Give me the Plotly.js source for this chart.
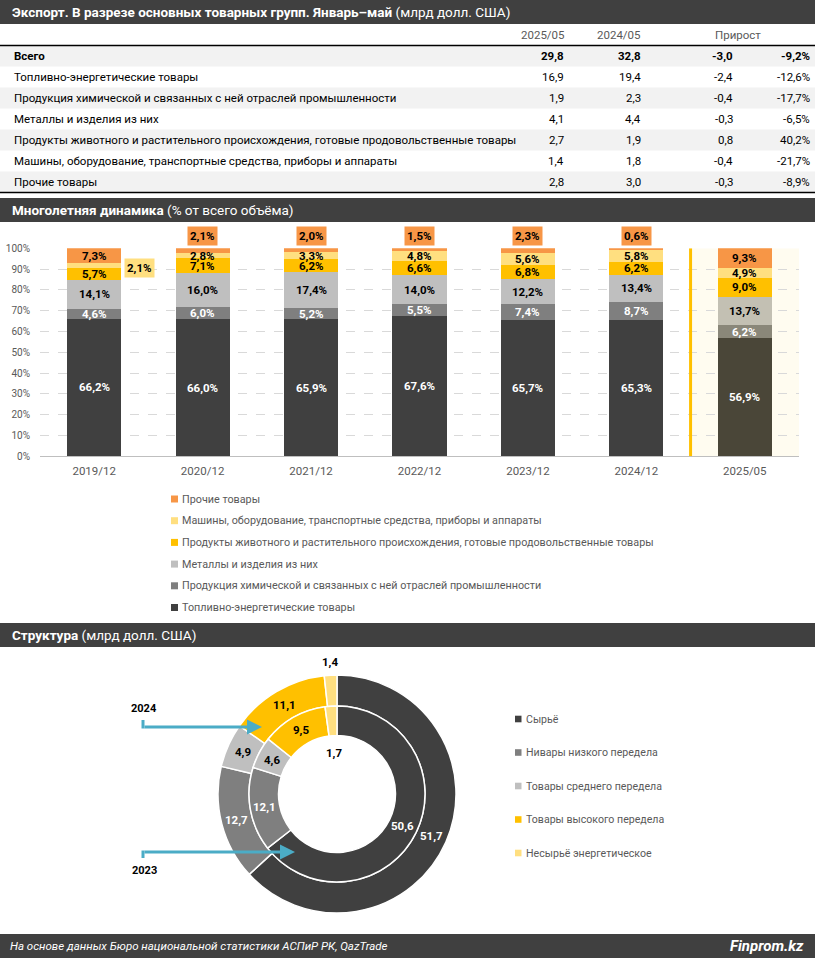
<!DOCTYPE html>
<html><head><meta charset="utf-8">
<script src="https://cdn.plot.ly/plotly-3.0.1.min.js"></script>
<style>body{margin:0;background:#fff}#chart{width:815px;height:958px}</style>
</head><body><div id="chart"></div>
<script>
// ---------- DATA ----------
const years = ['2019/12','2020/12','2021/12','2022/12','2023/12','2024/12','2025/05'];
const seriesNames = [
  'Топливно-энергетические товары',
  'Продукция химической и связанных с ней отраслей промышленности',
  'Металлы и изделия из них',
  'Продукты животного и растительного происхождения, готовые продовольственные товары',
  'Машины, оборудование, транспортные средства, приборы и аппараты',
  'Прочие товары'
];
const fuelShare  = [66.2, 66.0, 65.9, 67.6, 65.7, 65.3, 56.9];
const chemShare  = [4.6, 6.0, 5.2, 5.5, 7.4, 8.7, 6.2];
const metalShare = [14.1, 16.0, 17.4, 14.0, 12.2, 13.4, 13.7];
const foodShare  = [5.7, 7.1, 6.2, 6.6, 6.8, 6.2, 9.0];
const machShare  = [2.1, 2.8, 3.3, 4.8, 5.6, 5.8, 4.9];
const otherShare = [7.3, 2.1, 2.0, 1.5, 2.3, 0.6, 9.3];
const yTickVals  = [0, 10, 20, 30, 40, 50, 60, 70, 80, 90, 100];
const yTickText  = ['0%','10%','20%','30%','40%','50%','60%','70%','80%','90%','100%'];

const tableHeaders = ['2025/05', '2024/05', 'Прирост'];
const tableRows = ['Всего'].concat(seriesNames);
const val2025 = [29.8, 16.9, 1.9, 4.1, 2.7, 1.4, 2.8];
const val2024 = [32.8, 19.4, 2.3, 4.4, 1.9, 1.8, 3.0];
const growthAbs = [-3.0, -2.4, -0.4, -0.3, 0.8, -0.4, -0.3];
const growthPct = [-9.2, -12.6, -17.7, -6.5, 40.2, -21.7, -8.9];

const donutLabels = ['Сырьё','Нивары низкого передела','Товары среднего передела','Товары высокого передела','Несырьё энергетическое'];
const donut2024 = [51.7, 12.7, 4.9, 11.1, 1.4];
const donut2023 = [50.6, 12.1, 4.6, 9.5, 1.7];
const donutYears = ['2024', '2023'];

const titles = {
  t1b: 'Экспорт. В разрезе основных товарных групп. Январь–май', t1: ' (млрд долл. США)',
  t2b: 'Многолетняя динамика', t2: ' (% от всего объёма)',
  t3b: 'Структура', t3: ' (млрд долл. США)',
  src: 'На основе данных Бюро национальной статистики АСПиР РК, QazTrade', brand: 'Finprom.kz'
};

// ---------- STYLE ----------
const W = 815, H = 958;
const FONT = 'Roboto, "Noto Sans", sans-serif';
const DARK = '#404040';
const X = p => p / W, Y = p => 1 - p / H;
const fmt = v => v.toFixed(1).replace('.', ',');
const shares = [fuelShare, chemShare, metalShare, foodShare, machShare, otherShare];
const colors = ['#404040', '#7f7f7f', '#bfbfbf', '#ffc000', '#ffdf80', '#f79646'];
const colorsLast = ['#4a4638', '#8a8779', '#c3c0b3', '#ffc000', '#ffdf80', '#f79646'];
const txtColors = ['#ffffff', '#ffffff', '#000000', '#000000', '#000000', '#000000'];
const donutColors = ['#404040', '#7f7f7f', '#bfbfbf', '#ffc000', '#ffdf80'];

const shapes = [], ann = [], traces = [];

function header(y0, y1, b, n) {
  shapes.push({type:'rect', xref:'paper', yref:'paper', x0:0, x1:1, y0:Y(y1), y1:Y(y0), fillcolor:DARK, line:{width:0}, layer:'below'});
  ann.push({xref:'paper', yref:'paper', x:X(10), y:Y((y0+y1)/2), xanchor:'left', yanchor:'middle', showarrow:false,
    text:'<b>'+b+'</b>'+n, font:{family:FONT, size:13.5, color:'#ffffff'}});
}
header(0, 24, titles.t1b, titles.t1);
header(198, 222, titles.t2b, titles.t2);
header(623, 647, titles.t3b, titles.t3);

// footer
shapes.push({type:'rect', xref:'paper', yref:'paper', x0:0, x1:1, y0:0, y1:Y(934), fillcolor:DARK, line:{width:0}, layer:'below'});
ann.push({xref:'paper', yref:'paper', x:X(8), y:Y(946), xanchor:'left', yanchor:'middle', showarrow:false,
  text:'<i>'+titles.src+'</i>', font:{family:FONT, size:11.5, color:'#ffffff'}});
ann.push({xref:'paper', yref:'paper', x:X(806), y:Y(946), xanchor:'right', yanchor:'middle', showarrow:false,
  text:'<b><i>'+titles.brand+'</i></b>', font:{family:FONT, size:15, color:'#ffffff'}});

// ---------- TABLE ----------
const TF = 11.5;
ann.push({xref:'paper', yref:'paper', x:X(567), y:Y(35), xanchor:'right', yanchor:'middle', showarrow:false, text:tableHeaders[0], font:{family:FONT, size:TF, color:'#595959'}});
ann.push({xref:'paper', yref:'paper', x:X(643), y:Y(35), xanchor:'right', yanchor:'middle', showarrow:false, text:tableHeaders[1], font:{family:FONT, size:TF, color:'#595959'}});
ann.push({xref:'paper', yref:'paper', x:X(738), y:Y(35), xanchor:'center', yanchor:'middle', showarrow:false, text:tableHeaders[2], font:{family:FONT, size:TF, color:'#595959'}});
shapes.push({type:'line', xref:'paper', yref:'paper', x0:0, x1:1, y0:Y(45.5), y1:Y(45.5), line:{color:'#000', width:1.5}});
shapes.push({type:'line', xref:'paper', yref:'paper', x0:0, x1:1, y0:Y(192.5), y1:Y(192.5), line:{color:'#000', width:1.5}});
tableRows.forEach((r, i) => {
  const cy = 56 + i * 21;
  if (i % 2 === 0) shapes.push({type:'rect', xref:'paper', yref:'paper', x0:0, x1:1, y0:Y(cy+10.5), y1:Y(cy-10.5), fillcolor:'#f2f2f2', line:{width:0}, layer:'below'});
  const f = {family:FONT, size:TF, color:'#000'};
  const w = s => i === 0 ? '<b>'+s+'</b>' : s;
  ann.push({xref:'paper', yref:'paper', x:X(12), y:Y(cy), xanchor:'left', yanchor:'middle', showarrow:false, text:w(r), font:f});
  ann.push({xref:'paper', yref:'paper', x:X(566), y:Y(cy), xanchor:'right', yanchor:'middle', showarrow:false, text:w(fmt(val2025[i])), font:f});
  ann.push({xref:'paper', yref:'paper', x:X(643), y:Y(cy), xanchor:'right', yanchor:'middle', showarrow:false, text:w(fmt(val2024[i])), font:f});
  ann.push({xref:'paper', yref:'paper', x:X(735), y:Y(cy), xanchor:'right', yanchor:'middle', showarrow:false, text:w(fmt(growthAbs[i])), font:f});
  ann.push({xref:'paper', yref:'paper', x:X(812), y:Y(cy), xanchor:'right', yanchor:'middle', showarrow:false, text:w(fmt(growthPct[i])+'%'), font:f});
});

// ---------- STACKED BARS ----------
shares.forEach((s, i) => {
  traces.push({type:'bar', x:years, y:s, name:seriesNames[i], width:0.5, hoverinfo:'skip',
    marker:{color: years.map((_, j) => j === years.length - 1 ? colorsLast[i] : colors[i]), line:{width:0}},
    xaxis:'x', yaxis:'y', showlegend:false});
});
shapes.push({type:'rect', xref:'x', yref:'y', x0:5.5, x1:6.5, y0:0, y1:100, fillcolor:'#fffcf0', line:{width:0}, layer:'below'});
shapes.push({type:'line', xref:'x', yref:'y', x0:5.5, x1:5.5, y0:0, y1:100, line:{color:'#ffc000', width:3}, layer:'above'});

const BF = 11.5;
years.forEach((yr, j) => {
  let cum = 0;
  shares.forEach((s, i) => {
    const v = s[j], mid = cum + v / 2; cum += v;
    const t = fmt(v) + '%';
    if (v < 2.5 && i === shares.length - 1) {
      ann.push({xref:'x', yref:'y', x:yr, y:100, yanchor:'bottom', yshift:2, showarrow:false, text:'<b>'+t+'</b>',
        bgcolor:colors[i], borderpad:2, font:{family:FONT, size:BF, color:'#000'}});
    } else if (v < 2.5) {
      ann.push({xref:'x', yref:'y', x:yr, y:mid, xanchor:'left', xshift:30, yshift:-2, showarrow:false, text:'<b>'+t+'</b>',
        bgcolor:colors[i], borderpad:2, font:{family:FONT, size:BF, color:'#000'}});
    } else {
      ann.push({xref:'x', yref:'y', x:yr, y:mid, showarrow:false, text:'<b>'+t+'</b>',
        font:{family:FONT, size:BF, color:txtColors[i]}});
    }
  });
});

// bar legend (top item = last series)
for (let k = 0; k < seriesNames.length; k++) {
  const i = seriesNames.length - 1 - k;
  const cy = 499 + k * 21.7;
  shapes.push({type:'rect', xref:'paper', yref:'paper', x0:X(171), x1:X(178), y0:Y(cy+3.5), y1:Y(cy-3.5), fillcolor:colors[i], line:{width:0}});
  ann.push({xref:'paper', yref:'paper', x:X(180), y:Y(cy), xanchor:'left', yanchor:'middle', showarrow:false, text:seriesNames[i], font:{family:FONT, size:10.8, color:'#595959'}});
}

// ---------- DONUT ----------
const cx = 337, cyD = 794;
const rings = [
  {vals: donut2024, rOut: 119, rIn: 88},
  {vals: donut2023, rOut: 88, rIn: 58.5}
];
rings.forEach((rg, k) => {
  traces.push({type:'pie', values:rg.vals, labels:donutLabels, sort:false, direction:'clockwise', rotation:0,
    hole: rg.rIn / rg.rOut, textinfo:'none', textposition:'none', hoverinfo:'skip', showlegend:false,
    marker:{colors:donutColors, line:{color:'#ffffff', width:1.5}},
    domain:{x:[X(cx - rg.rOut), X(cx + rg.rOut)], y:[Y(cyD + rg.rOut), Y(cyD - rg.rOut)]}});
  const tot = rg.vals.reduce((a, b) => a + b, 0);
  let acc = 0;
  rg.vals.forEach((v, i) => {
    const a0 = acc; acc += v;
    const th = ((a0 + v / 2) / tot) * 2 * Math.PI;
    let r = (rg.rOut + rg.rIn) / 2;
    if (v / tot < 0.03) r = k === 0 ? rg.rOut + 13 : rg.rIn - 17;
    const px = cx + r * Math.sin(th), py = cyD - r * Math.cos(th);
    const c = (v / tot < 0.03) ? '#000' : (i < 2 ? '#ffffff' : '#000');
    ann.push({xref:'paper', yref:'paper', x:X(px), y:Y(py), xanchor:'center', yanchor:'middle', showarrow:false,
      text:'<b>'+fmt(v)+'</b>', font:{family:FONT, size:11.5, color:c}});
  });
});

// donut legend
donutLabels.forEach((l, i) => {
  const cy = 719 + i * 33.5;
  shapes.push({type:'rect', xref:'paper', yref:'paper', x0:X(515), x1:X(521.5), y0:Y(cy+3.3), y1:Y(cy-3.3), fillcolor:donutColors[i], line:{width:0}});
  ann.push({xref:'paper', yref:'paper', x:X(524), y:Y(cy), xanchor:'left', yanchor:'middle', showarrow:false, text:l, font:{family:FONT, size:10.6, color:'#595959'}});
});

// year pointers
const ARROW = '#4bacc6';
ann.push({xref:'paper', yref:'paper', x:X(144), y:Y(708), xanchor:'center', yanchor:'middle', showarrow:false, text:'<b>'+donutYears[0]+'</b>', font:{family:FONT, size:11, color:'#000'}});
ann.push({xref:'paper', yref:'paper', x:X(144), y:Y(870), xanchor:'center', yanchor:'middle', showarrow:false, text:'<b>'+donutYears[1]+'</b>', font:{family:FONT, size:11, color:'#000'}});
shapes.push({type:'line', xref:'paper', yref:'paper', x0:X(143), x1:X(143), y0:Y(720), y1:Y(728.5), line:{color:ARROW, width:3}});
shapes.push({type:'line', xref:'paper', yref:'paper', x0:X(143), x1:X(143), y0:Y(858), y1:Y(850.5), line:{color:ARROW, width:3}});
ann.push({xref:'paper', yref:'paper', x:X(262), y:Y(727), ax:-119, ay:0, text:'', showarrow:true, arrowhead:2, arrowsize:1, arrowwidth:3, arrowcolor:ARROW, standoff:0});
ann.push({xref:'paper', yref:'paper', x:X(295), y:Y(852), ax:-152, ay:0, text:'', showarrow:true, arrowhead:2, arrowsize:1, arrowwidth:3, arrowcolor:ARROW, standoff:0});

const layout = {
  width: W, height: H, margin:{l:0, r:0, t:0, b:0}, paper_bgcolor:'#ffffff', plot_bgcolor:'rgba(0,0,0,0)',
  barmode:'stack', showlegend:false,
  font:{family:FONT},
  xaxis:{domain:[X(40), X(799)], type:'category', range:[-0.5, 6.5], fixedrange:true, showgrid:false,
    tickfont:{family:FONT, size:11.5, color:'#595959'}, ticks:'', ticklabelstandoff:6},
  yaxis:{domain:[Y(456.3), Y(248.3)], range:[0, 100], tickmode:'array', tickvals:yTickVals, ticktext:yTickText,
    showgrid:true, gridcolor:'#d9d9d9', griddash:'dash', gridwidth:1, zeroline:true, zerolinecolor:'#bfbfbf', zerolinewidth:1,
    tickfont:{family:FONT, size:10, color:'#595959'}, ticks:'', ticklabelstandoff:9, fixedrange:true},
  shapes: shapes, annotations: ann
};
Plotly.newPlot('chart', traces, layout, {displayModeBar:false, staticPlot:true});
</script></body></html>
